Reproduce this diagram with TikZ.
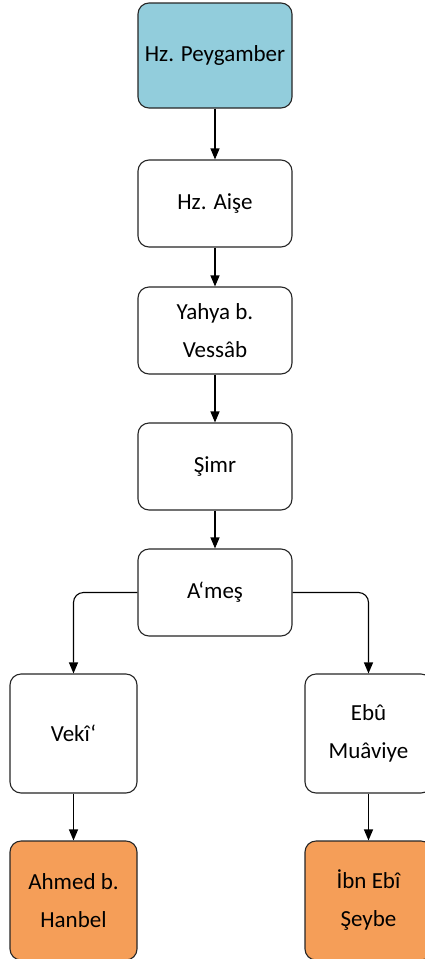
\documentclass[tikz,border=0pt]{standalone}
\usepackage{fontspec}
\setmainfont{Carlito}
\usetikzlibrary{arrows.meta}
\definecolor{topblue}{RGB}{146,205,220}
\definecolor{leaforange}{RGB}{245,158,88}
\begin{document}
\begin{tikzpicture}[x=1pt,y=-1pt,
  box/.style={draw=black!85, line width=1.1pt, rounded corners=11pt, fill=white,
    inner sep=0pt, align=center, font=\fontsize{23}{38}\selectfont},
  colbox/.style={box, minimum width=154pt, minimum height=87pt},
  sidebox/.style={box, minimum width=127pt, minimum height=119pt},
  arr/.style={line width=1.1pt, -{Triangle[width=9pt,length=11pt]}}]
\useasboundingbox (0,0) rectangle (425,959);
\clip (0,0) rectangle (425,959);
\node[colbox, minimum height=105pt, fill=topblue] (p) at (215,55.5) {Hz. Peygamber};
\node[colbox] (a) at (215,203.5) {Hz. Aişe};
\node[colbox] (y) at (215,330.5) {Yahya b.\\Vessâb};
\node[colbox] (s) at (215,466.5) {Şimr};
\node[colbox] (m) at (215,592.5) {A‘meş};
\node[sidebox] (v) at (73.5,733.5) {Vekî‘};
\node[sidebox] (e) at (368.5,733.5) {Ebû\\Muâviye};
\node[sidebox, fill=leaforange] (h) at (73.5,900.5) {Ahmed b.\\Hanbel};
\node[sidebox, fill=leaforange] (i) at (368.5,900.5) {İbn Ebî\\Şeybe};
\draw[arr] (p) -- (a);
\draw[arr] (a) -- (y);
\draw[arr] (y) -- (s);
\draw[arr] (s) -- (m);
\draw[arr, rounded corners=10pt] (m.west) -| (v.north);
\draw[arr, rounded corners=10pt] (m.east) -| (e.north);
\draw[arr] (v) -- (h);
\draw[arr] (e) -- (i);
\end{tikzpicture}
\end{document}
